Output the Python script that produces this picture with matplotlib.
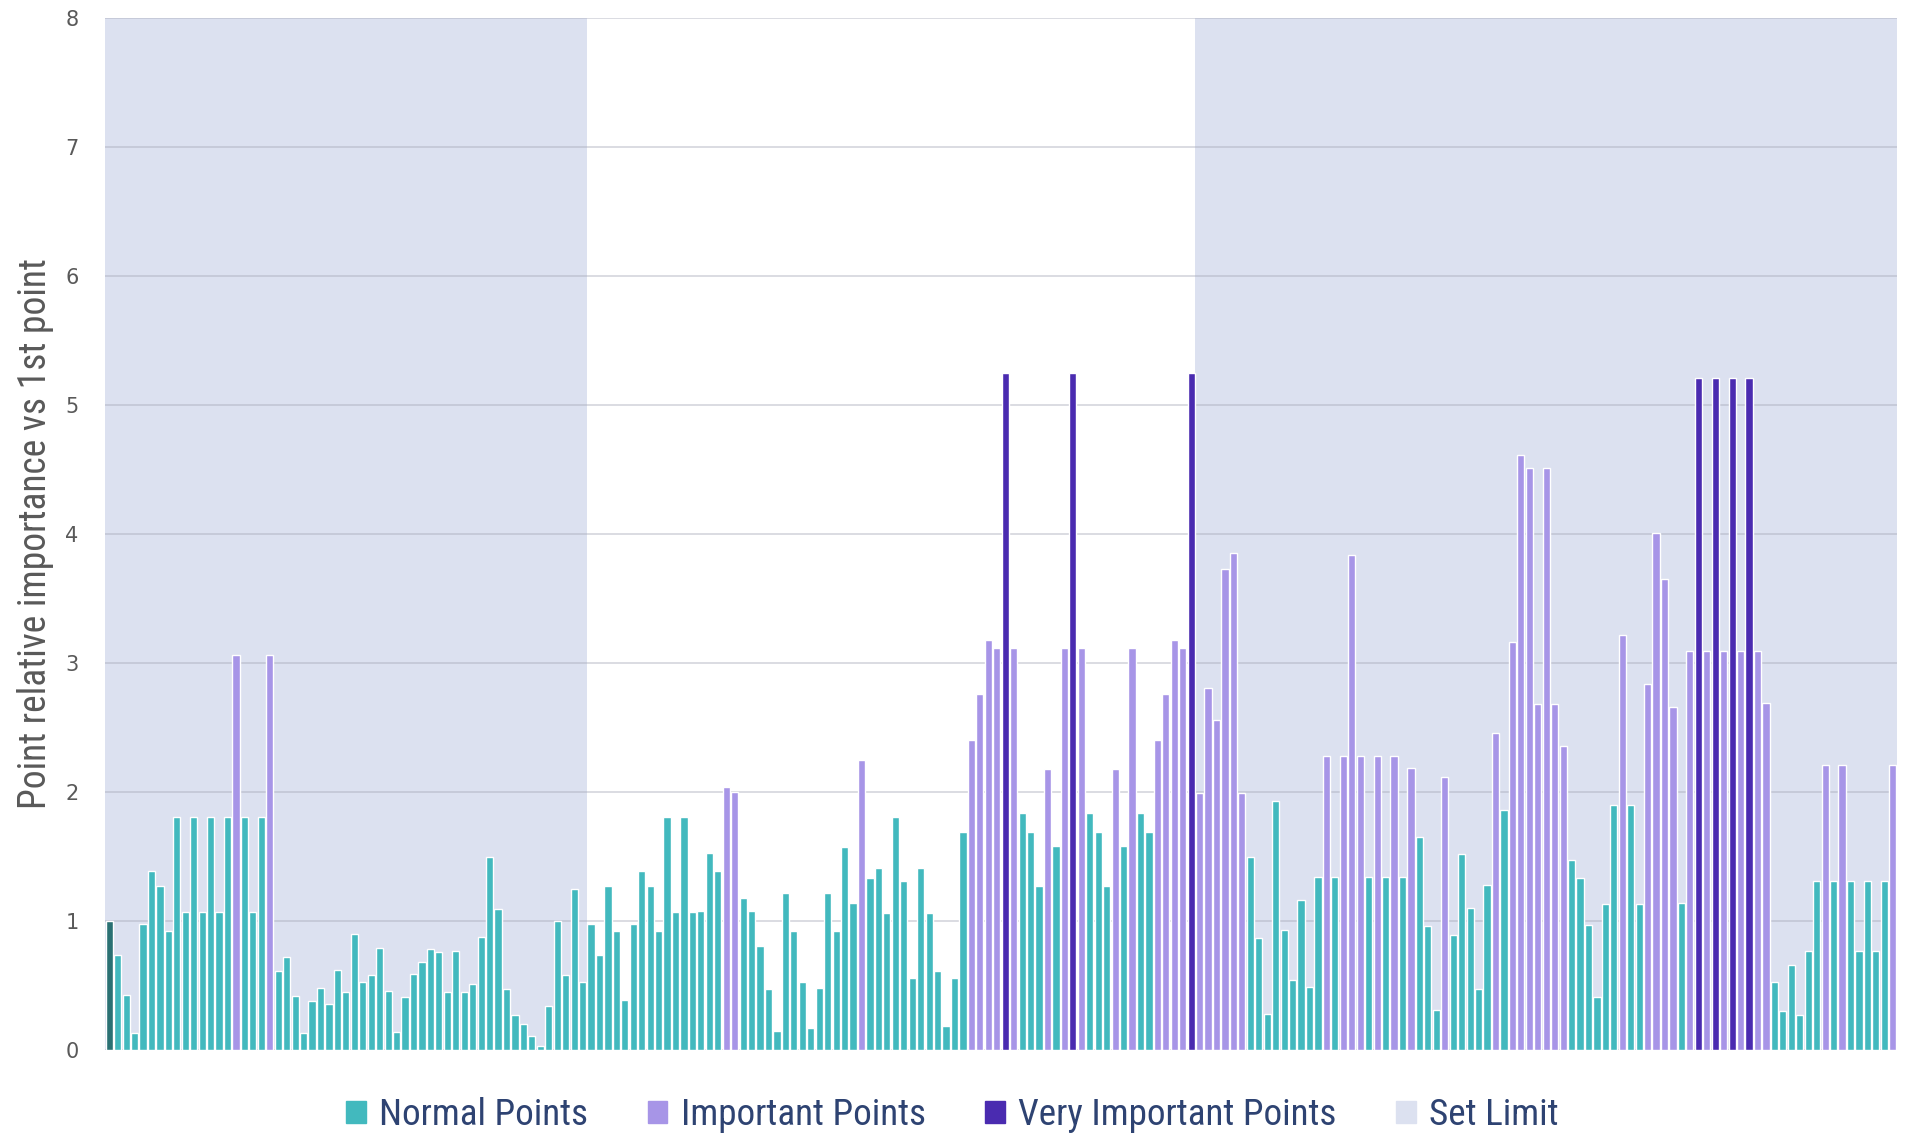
import numpy as np
import matplotlib.pyplot as plt
from matplotlib import font_manager
from matplotlib.patches import Patch

# bar heights, read left to right (212 points)
values = [
    1.00, 0.74, 0.43, 0.13, 0.98, 1.39, 1.27, 0.92, 1.81, 1.07,
    1.81, 1.07, 1.81, 1.07, 1.81, 3.06, 1.81, 1.07, 1.81, 3.06,
    0.61, 0.72, 0.42, 0.13, 0.38, 0.48, 0.36, 0.62, 0.45, 0.90,
    0.53, 0.58, 0.79, 0.46, 0.14, 0.41, 0.59, 0.68, 0.78, 0.76,
    0.45, 0.77, 0.45, 0.51, 0.88, 1.50, 1.09, 0.47, 0.27, 0.20,
    0.11, 0.03, 0.34, 1.00, 0.58, 1.25, 0.53, 0.98, 0.74, 1.27,
    0.92, 0.39, 0.98, 1.39, 1.27, 0.92, 1.81, 1.07, 1.81, 1.07,
    1.08, 1.53, 1.39, 2.04, 2.00, 1.18, 1.08, 0.81, 0.47, 0.15,
    1.22, 0.92, 0.53, 0.17, 0.48, 1.22, 0.92, 1.57, 1.14, 2.25,
    1.33, 1.41, 1.06, 1.81, 1.31, 0.56, 1.41, 1.06, 0.61, 0.19,
    0.56, 1.69, 2.40, 2.76, 3.18, 3.12, 5.25, 3.12, 1.84, 1.69,
    1.27, 2.18, 1.58, 3.12, 5.25, 3.12, 1.84, 1.69, 1.27, 2.18,
    1.58, 3.12, 1.84, 1.69, 2.40, 2.76, 3.18, 3.12, 5.25, 1.99,
    2.81, 2.56, 3.73, 3.85, 1.99, 1.50, 0.87, 0.28, 1.93, 0.93,
    0.54, 1.16, 0.49, 1.34, 2.28, 1.34, 2.28, 3.84, 2.28, 1.34,
    2.28, 1.34, 2.28, 1.34, 2.19, 1.65, 0.96, 0.31, 2.12, 0.89,
    1.52, 1.10, 0.47, 1.28, 2.46, 1.86, 3.16, 4.61, 4.51, 2.68,
    4.51, 2.68, 2.36, 1.47, 1.33, 0.97, 0.41, 1.13, 1.90, 3.22,
    1.90, 1.13, 2.84, 4.01, 3.65, 2.66, 1.14, 3.09, 5.21, 3.09,
    5.21, 3.09, 5.21, 3.09, 5.21, 3.09, 2.69, 0.53, 0.30, 0.66,
    0.27, 0.77, 1.31, 2.21, 1.31, 2.21, 1.31, 0.77, 1.31, 0.77,
    1.31, 2.21,
]

# 0-based positions of the highlighted points
important_idx = [15, 19, 73, 74, 89, 102, 103, 104, 105, 107, 111, 113, 115,
                 119, 121, 124, 125, 126, 127, 129, 130, 131, 132, 133, 134,
                 144, 146, 147, 148, 150, 152, 154, 158, 164, 166, 167, 168,
                 169, 170, 171, 172, 179, 182, 183, 184, 185, 187, 189, 191,
                 193, 195, 196, 203, 205, 211]
very_important_idx = [106, 114, 128, 188, 190, 192, 194]

# shaded "set limit" ranges (first, last point) and their height
limit_spans = [(0, 56), (129, 211)]
limit_value = 8

legend_labels = ["Normal Points", "Important Points", "Very Important Points", "Set Limit"]

teal = "#42b9be"
first_teal = "#2a7173"
lilac = "#a795e7"
violet = "#4a2bb0"
shade = "#dce1f0"
navy = "#2e4372"
grey = "#595959"

available = {f.name for f in font_manager.fontManager.ttflist}
narrow = None
for name in ["Roboto Condensed", "Liberation Sans Narrow", "Open Sans Condensed"]:
    if name in available:
        narrow = name
        break
if narrow:
    label_font = dict(family=narrow)
    label_size, legend_size = 27, 26.7
else:
    label_font = dict(family="DejaVu Sans", stretch="condensed")
    label_size, legend_size = 19, 19

n = len(values)
x = np.arange(n)
colors = [teal] * n
colors[0] = first_teal
for i in important_idx:
    colors[i] = lilac
for i in very_important_idx:
    colors[i] = violet

fig = plt.figure(figsize=(19.05, 11.38), dpi=100)
ax = fig.add_axes([0.0551, 0.0773, 0.9407, 0.9069])

limit = np.zeros(n)
for a, b in limit_spans:
    limit[a:b + 1] = limit_value
ax.bar(x, limit, width=1.0, color=shade, linewidth=0, zorder=0)

ax.bar(x, values, width=0.85, color=colors, edgecolor="white", linewidth=1.0, zorder=3)

ax.set_xlim(-0.5, n - 0.5)
ax.set_ylim(0, 8)
ax.set_yticks(range(9))
ax.set_xticks([])
ax.yaxis.grid(True, color="#a8aab8", alpha=0.45, linewidth=1.3, zorder=1)
ax.set_axisbelow(False)
for s in ax.spines.values():
    s.set_visible(False)
ax.tick_params(axis="y", length=0, pad=19, labelsize=15, labelcolor=grey)

ax.set_ylabel("Point relative importance vs 1st point", fontsize=label_size,
              color=grey, labelpad=8, **label_font)

handles = [Patch(color=teal), Patch(color=lilac), Patch(color=violet), Patch(color=shade)]
leg = fig.legend(handles, legend_labels, loc="center", bbox_to_anchor=(0.5, 0.02),
                 ncol=4, frameon=False, handlelength=0.53, handleheight=0.53,
                 handletextpad=0.36, columnspacing=1.6,
                 prop=dict(size=legend_size, **label_font))
for t in leg.get_texts():
    t.set_color(navy)

fig.savefig("out.png", dpi=100)
